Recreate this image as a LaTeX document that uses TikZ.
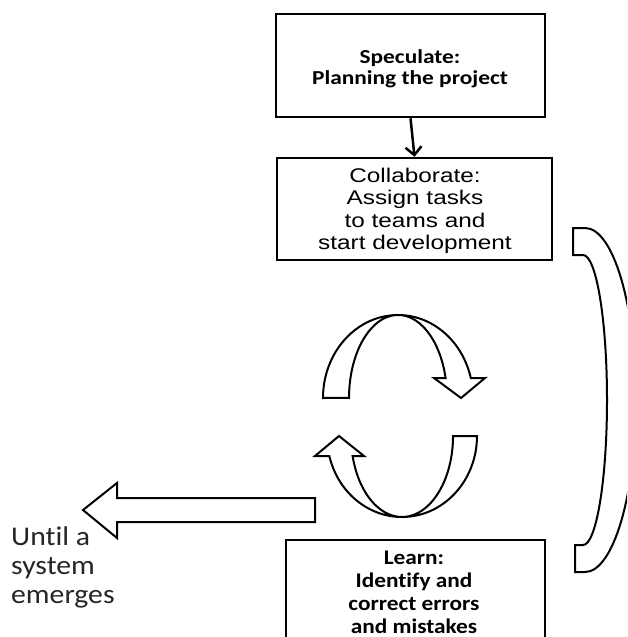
\documentclass[tikz,border=0pt]{standalone}
\usepackage{fontspec}
\usetikzlibrary{arrows.meta}
\newfontfamily\calibfont[FakeStretch=1.12, Ligatures=NoCommon]{Carlito}
\newfontfamily\calibwide[FakeStretch=1.18, Ligatures=NoCommon]{Carlito}
\newfontfamily\remarkfont[FakeStretch=1.1, Ligatures=NoCommon]{Carlito}
\newfontfamily\arialfont[FakeStretch=1.23]{Liberation Sans}
\tikzset{
  stagebox/.style={draw=black, line width=2.5pt, fill=white, inner sep=0pt},
  stagetext/.style={align=center, inner sep=0pt},
  blockarrow/.style={draw=black, line width=2pt, fill=white, line join=miter},
  flow/.style={line width=2.5pt, -{Straight Barb[length=8pt,width=16pt]}},
}
\begin{document}
\begin{tikzpicture}[x=1pt, y=-1pt]
  \useasboundingbox (0,0) rectangle (627,637);
  \clip (0,0) rectangle (627,637);
  \fill[white] (0,0) rectangle (627,637);

  % stage boxes
  \node[stagebox, minimum width=269pt, minimum height=103pt] (spec) at (410.5,65.5) {};
  \node[stagebox, minimum width=275pt, minimum height=102pt] (collab) at (414.5,209) {};
  \node[stagebox, minimum width=259pt, minimum height=120pt] (learn) at (415.5,600) {};

  % stage texts
  \node[stagetext, font=\calibwide\bfseries\fontsize{19.8}{21}\selectfont] (spect) at (410,68.5) {Speculate:\\Planning the project};
  \node[stagetext, font=\arialfont\fontsize{19.8}{22.3}\selectfont] (collabt) at (415,211) {Collaborate:\\Assign tasks\\to teams and\\start development};
  \node[stagetext, font=\calibfont\bfseries\fontsize{20.8}{23}\selectfont] (learnt) at (414,592) {Learn:\\Identify and\\correct errors\\and mistakes};

  % closing remark
  \node[align=left, inner sep=0pt, anchor=west, text=black!85,
        font=\remarkfont\fontsize{27}{29}\selectfont] (until) at (11,567) {Until a\\system\\emerges};

  % speculate -> collaborate
  \draw[flow] (spec.south) -- (collab.north);

  % upper curved arrow of the cycle
  \draw[blockarrow] (323,398) arc[start angle=180, end angle=346.1, x radius=75, y radius=83]
    -- (485,378) -- (461,398) -- (434,378) -- (445.6,378)
    arc[start angle=346.1, end angle=180, x radius=49, y radius=83] -- cycle;

  % lower curved arrow of the cycle
  \draw[blockarrow] (477,436) arc[start angle=0, end angle=165.7, x radius=75, y radius=81]
    -- (315,456) -- (339,436) -- (364,456) -- (352.6,456)
    arc[start angle=165.7, end angle=0, x radius=51, y radius=81] -- cycle;

  % exit arrow to the left
  \draw[blockarrow] (315,498) -- (117,498) -- (117,483) -- (83,510)
    -- (117,538) -- (117,522) -- (315,522) -- cycle;

  % curved band on the right
  \draw[blockarrow] (573,228) -- (585,228)
    arc[start angle=-90, end angle=90, x radius=51, y radius=172]
    -- (575,572) -- (575,545) -- (583,545)
    arc[start angle=90, end angle=-90, x radius=24, y radius=145]
    -- (573,255) -- cycle;
\end{tikzpicture}
\end{document}
